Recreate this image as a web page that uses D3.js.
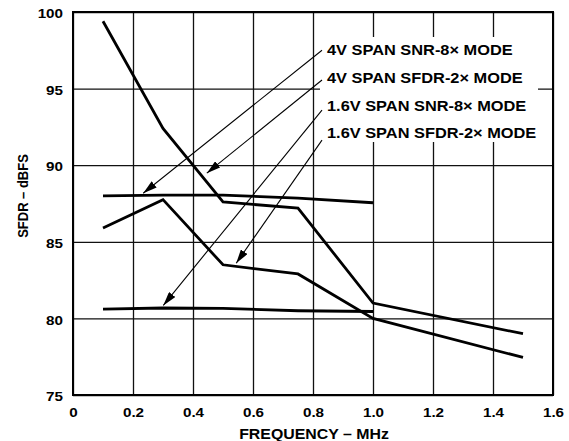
<!DOCTYPE html>
<html><head><meta charset="utf-8">
<script src="https://cdn.jsdelivr.net/npm/d3@7"></script>
<style>
html,body{margin:0;padding:0;background:#fff;}
svg text{font-family:Arial,"Liberation Sans",Helvetica,sans-serif;font-weight:bold;fill:#000;}
</style></head>
<body>
<svg id="chart" width="569" height="441"></svg>
<script>
// ---- data ----
const freq = [0.1, 0.3, 0.5, 0.75, 1.0, 1.5];
const freqShort = [0.1, 0.3, 0.5, 0.75, 1.0];
const sfdr4V2x = [99.4, 92.4, 87.6, 87.2, 81.0, 79.0];
const sfdr16V2x = [85.9, 87.75, 83.5, 82.9, 80.0, 77.45];
const snr4V8x = [88.0, 88.05, 88.05, 87.85, 87.55];
const snr16V8x = [80.6, 80.68, 80.65, 80.5, 80.45];
const xTicks = [0, 0.2, 0.4, 0.6, 0.8, 1.0, 1.2, 1.4, 1.6];
const xTickLabels = ["0", "0.2", "0.4", "0.6", "0.8", "1.0", "1.2", "1.4", "1.6"];
const yTicks = [75, 80, 85, 90, 95, 100];
const legendLabels = ["4V SPAN SNR-8\u00D7 MODE", "4V SPAN SFDR-2\u00D7 MODE", "1.6V SPAN SNR-8\u00D7 MODE", "1.6V SPAN SFDR-2\u00D7 MODE"];
// arrow start (near label) and tip (on the curve), in data units
const arrowFromX = [0.83, 0.83, 0.83, 0.83];
const arrowFromY = [97.5, 95.56, 93.6, 91.64];
const arrowToX = [0.234, 0.446, 0.301, 0.544];
const arrowToY = [88.17, 89.48, 80.85, 83.6];

const series = [
  {x: freqShort, y: snr4V8x},
  {x: freq, y: sfdr4V2x},
  {x: freqShort, y: snr16V8x},
  {x: freq, y: sfdr16V2x}
];

// ---- layout ----
const L = 73, R = 553, T = 12, B = 395;
const SX = 1.17; // horizontal text stretch
const svg = d3.select("#chart");
const x = d3.scaleLinear().domain([0, 1.6]).range([L, R]);
const y = d3.scaleLinear().domain([75, 100]).range([B, T]);

// gridlines
const gx = svg.append("g").attr("transform", `translate(0,${B})`)
  .call(d3.axisBottom(x).tickValues(xTicks).tickSize(-(B - T)).tickFormat(""));
const gy = svg.append("g").attr("transform", `translate(${L},0)`)
  .call(d3.axisLeft(y).tickValues(yTicks).tickSize(-(R - L)).tickFormat(""));
[gx, gy].forEach(g => {
  g.select(".domain").remove();
  g.selectAll("line").attr("stroke", "#111").attr("stroke-width", 1.3);
});

// legend background (hides grid)
svg.append("rect").attr("x", 320).attr("y", 37).attr("width", 218).attr("height", 105).attr("fill", "#fff");

// frame
svg.append("rect").attr("x", L).attr("y", T).attr("width", R - L).attr("height", B - T)
  .attr("fill", "none").attr("stroke", "#000").attr("stroke-width", 2);

// tick labels
const ax = svg.append("g").attr("transform", `translate(0,${B})`)
  .call(d3.axisBottom(x).tickValues(xTicks).tickSize(0).tickPadding(0)
    .tickFormat((d, i) => xTickLabels[i]));
ax.select(".domain").remove();
ax.selectAll("text").attr("y", 0).attr("dy", 0)
  .attr("transform", `translate(0,22) scale(${SX},1)`)
  .style("font-size", "13px").style("font-family", "Arial, 'Liberation Sans', sans-serif").style("font-weight", "bold");

const ay = svg.append("g").attr("transform", `translate(${L},0)`)
  .call(d3.axisLeft(y).tickValues(yTicks).tickSize(0).tickPadding(0).tickFormat(d3.format("d")));
ay.select(".domain").remove();
ay.selectAll("text").attr("x", 0).attr("dy", "0.36em")
  .attr("transform", `translate(-10,1) scale(${SX},1)`)
  .style("font-size", "13px").style("font-family", "Arial, 'Liberation Sans', sans-serif").style("font-weight", "bold");

// axis titles
svg.append("text").attr("text-anchor", "middle")
  .attr("transform", `translate(${(L + R) / 2 + 1},439) scale(1.06,1)`)
  .style("font-size", "15px").text("FREQUENCY \u2013 MHz");
svg.append("text").attr("text-anchor", "middle")
  .attr("transform", `translate(28,196) rotate(-90) scale(1,1.17)`)
  .style("font-size", "13px").text("SFDR \u2013 dBFS");

// curves
const line = d3.line().x(d => x(d[0])).y(d => y(d[1]));
series.forEach(s => {
  svg.append("path").datum(s.x.map((v, i) => [v, s.y[i]]))
    .attr("d", line).attr("fill", "none").attr("stroke", "#000")
    .attr("stroke-width", 2.8).attr("stroke-linejoin", "miter");
});

// arrow marker
svg.append("defs").append("marker").attr("id", "ah")
  .attr("viewBox", "0 0 14 8").attr("refX", 14).attr("refY", 4)
  .attr("markerWidth", 14).attr("markerHeight", 8)
  .attr("markerUnits", "userSpaceOnUse").attr("orient", "auto")
  .append("path").attr("d", "M0,0 L14,4 L0,8 Z").attr("fill", "#000");

legendLabels.forEach((lab, i) => {
  svg.append("line")
    .attr("x1", x(arrowFromX[i])).attr("y1", y(arrowFromY[i]))
    .attr("x2", x(arrowToX[i])).attr("y2", y(arrowToY[i]))
    .attr("stroke", "#000").attr("stroke-width", 1.1).attr("marker-end", "url(#ah)");
});

const legendBase = [55, 83, 111, 138];
legendLabels.forEach((lab, i) => {
  svg.append("text").attr("transform", `translate(327,${legendBase[i]}) scale(${SX},1)`)
    .style("font-size", "14px").text(lab);
});
</script>
</body></html>
